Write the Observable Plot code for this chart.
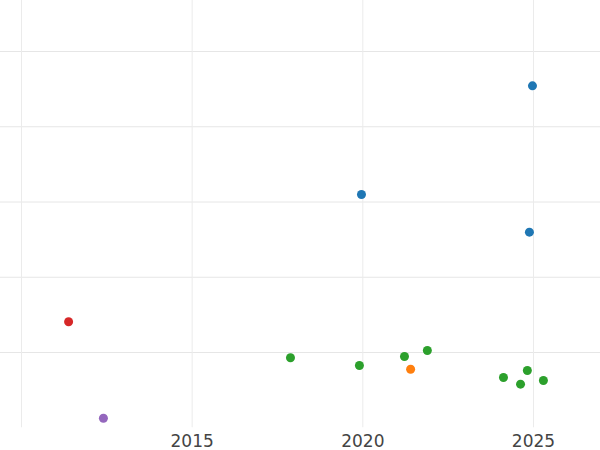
<!DOCTYPE html>
<html>
<head>
<meta charset="utf-8">
<script src="https://cdn.jsdelivr.net/npm/d3@7"></script>
<script src="https://cdn.jsdelivr.net/npm/@observablehq/plot@0.6"></script>
<style>
  html, body { margin: 0; padding: 0; background: #fff; }
</style>
</head>
<body>
<div id="chart"></div>
<script>
const years  = [2024.97, 2019.96, 2024.88, 2011.38, 2012.40, 2017.88, 2019.90, 2021.22, 2021.89, 2024.12, 2024.62, 2024.82, 2025.29, 2021.40];
const values = [4.544, 3.100, 2.599, 1.408, 0.127, 0.930, 0.827, 0.947, 1.027, 0.668, 0.579, 0.761, 0.628, 0.778];
const groups = ["A", "A", "A", "D", "E", "C", "C", "C", "C", "C", "C", "C", "C", "B"];
const groupNames  = ["A", "B", "C", "D", "E"];
const groupColors = ["#1f77b4", "#ff7f0e", "#2ca02c", "#d62728", "#9467bd"];
const xGrid  = [2010, 2015, 2020, 2025];
const xTicks = [2015, 2020, 2025];
const yGrid  = [1, 2, 3, 4, 5];

const data = years.map((x, i) => ({x, y: values[i], g: groups[i]}));

const chart = Plot.plot({
  width: 600,
  height: 450,
  marginTop: 0,
  marginRight: 0,
  marginLeft: 0,
  marginBottom: 22.75,
  style: {fontFamily: "DejaVu Sans", background: "#fff"},
  x: {domain: [2009.3848, 2026.9629], axis: null},
  y: {domain: [0, 5.678], axis: null},
  color: {domain: groupNames, range: groupColors},
  marks: [
    Plot.ruleY(yGrid, {y: d => d, stroke: "#e6e6e6", strokeWidth: 1}),
    Plot.ruleX(xGrid, {x: d => d, stroke: "#ebebeb", strokeWidth: 1}),
    Plot.axisX(xTicks, {tickSize: 0, tickPadding: 7, fontSize: 17, fill: "#444", label: null, tickFormat: d => String(d)}),
    Plot.dot(data, {x: "x", y: "y", fill: "g", r: 4.5, stroke: null})
  ]
});
document.getElementById("chart").appendChild(chart);
</script>
</body>
</html>
